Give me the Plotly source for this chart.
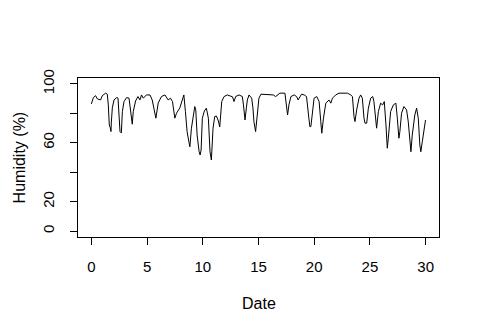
import plotly.graph_objects as go

# Trace of the humidity series (day, humidity %)
days = [0.00, 0.18, 0.38, 0.54, 0.83, 0.98, 1.28, 1.43, 1.52, 1.61, 1.70, 1.76, 1.79, 1.88,
        2.03, 2.27, 2.39, 2.48, 2.57, 2.69, 2.78, 2.93, 3.16, 3.38, 3.58, 3.67, 3.76, 3.97,
        4.18, 4.36, 4.50, 4.66, 4.95, 5.26, 5.46, 5.79, 6.00, 6.29, 6.60, 6.89, 7.10, 7.28,
        7.49, 7.64, 7.94, 8.17, 8.30, 8.44, 8.59, 8.75, 8.84, 8.98, 9.13, 9.28, 9.37, 9.49,
        9.67, 9.76, 9.85, 9.96, 10.14, 10.32, 10.50, 10.65, 10.77, 10.92, 11.07, 11.22, 11.40,
        11.52, 11.70, 11.91, 12.20, 12.51, 12.67, 12.80, 12.95, 13.25, 13.55, 13.65, 13.79,
        13.91, 14.00, 14.15, 14.39, 14.50, 14.59, 14.74, 14.86, 15.04, 15.22, 15.58, 16.02,
        16.32, 16.54, 16.71, 16.92, 17.37, 17.52, 17.61, 17.73, 17.91, 18.20, 18.42, 18.56,
        18.71, 18.86, 19.10, 19.31, 19.52, 19.61, 19.70, 19.85, 19.99, 20.23, 20.44, 20.59,
        20.68, 20.83, 21.04, 21.33, 21.49, 21.64, 21.93, 22.23, 22.53, 22.98, 23.28, 23.43,
        23.57, 23.66, 23.81, 24.02, 24.17, 24.32, 24.47, 24.56, 24.71, 24.86, 25.07, 25.25,
        25.36, 25.54, 25.60, 25.76, 25.96, 26.14, 26.29, 26.44, 26.56, 26.65, 26.86, 27.10,
        27.33, 27.46, 27.60, 27.69, 27.84, 28.05, 28.29, 28.44, 28.59, 28.68, 28.80, 29.03,
        29.19, 29.34, 29.48, 29.57, 29.70, 29.84, 29.99]
humidity = [86.4, 90.7, 92.0, 89.8, 89.1, 92.0, 93.7, 93.0, 85.7, 72.1, 70.1, 67.6, 73.5, 83.7,
            89.1, 90.7, 90.3, 81.2, 67.6, 66.7, 81.2, 88.0, 90.7, 90.3, 74.4, 72.6, 81.2, 88.4,
            91.4, 89.1, 92.5, 90.3, 92.5, 92.5, 89.1, 76.7, 87.1, 91.4, 92.5, 89.1, 90.3, 88.0,
            76.7, 80.1, 83.7, 90.3, 92.5, 81.2, 67.6, 60.7, 57.3, 69.9, 78.9, 84.6, 82.3, 65.3,
            53.9, 51.7, 55.1, 76.7, 81.6, 83.5, 76.7, 53.9, 48.3, 69.9, 77.8, 78.2, 74.8,
            70.7, 88.0, 91.4, 92.5, 91.4, 91.2, 88.0, 91.4, 92.5, 91.4, 85.7, 75.5,
            83.7, 89.1, 92.5, 90.3, 83.7, 74.4, 67.6, 75.5, 90.3, 93.0, 93.0, 92.5,
            92.5, 91.4, 92.5, 93.7, 93.7, 85.7, 78.9, 85.7, 91.4, 92.5, 91.4, 89.1,
            91.4, 93.0, 92.5, 91.4, 76.7, 71.0, 71.0, 83.5, 90.3, 91.4, 88.0, 74.4,
            66.5, 76.7, 86.9, 89.1, 86.9, 90.3, 92.5, 93.7, 93.7, 93.7, 92.5, 91.4,
            77.8, 74.4, 82.3, 90.3, 92.5, 90.3, 76.7, 73.3, 73.3, 83.5, 90.3, 91.4,
            88.0, 74.4, 69.9, 81.2, 86.9, 85.7, 88.0, 72.1, 56.3, 63.1, 81.2, 85.7,
            86.9, 76.7, 63.1, 67.6, 80.1, 84.6, 82.3, 74.4, 57.3, 53.9, 65.3, 78.9,
            83.5, 76.7, 58.5, 53.9, 60.7, 69.9, 75.5]

x_ticks = [0, 5, 10, 15, 20, 25, 30]
y_ticks = [0, 20, 40, 60, 80, 100]
y_tick_text = ["0", "20", "", "60", "", "100"]

FONT = "Liberation Sans, Arial, sans-serif"

fig = go.Figure()
fig.add_trace(go.Scatter(x=days, y=humidity, mode="lines",
                         line=dict(color="black", width=1), showlegend=False,
                         hoverinfo="skip"))

# The page body adds an 8px offset, so the figure is 8px smaller and margins shifted.
fig.update_layout(
    width=472, height=327,
    margin=dict(l=70, r=41, t=70, b=98),
    paper_bgcolor="white", plot_bgcolor="white",
    font=dict(family=FONT, size=15, color="black"),
    xaxis=dict(range=[-1.2, 31.2], tickvals=x_ticks, ticks="outside", ticklen=7,
               tickcolor="black", showline=True, mirror=True, linecolor="black",
               linewidth=1, showgrid=False, zeroline=False, ticklabelstandoff=9,
               tickfont=dict(size=15)),
    yaxis=dict(range=[-4, 104], tickvals=y_ticks, ticktext=y_tick_text, ticks="outside",
               ticklen=7, tickcolor="black", showline=True, mirror=True, linecolor="black",
               linewidth=1, showgrid=False, zeroline=False, tickangle=-90,
               ticklabelstandoff=10, tickfont=dict(size=15)),
    annotations=[
        dict(text="Date", xref="paper", yref="paper", x=0.501, y=-0.42,
             showarrow=False, font=dict(size=16), xanchor="center", yanchor="middle"),
        dict(text="Humidity (%)", xref="paper", yref="paper", x=-0.161, y=0.5,
             showarrow=False, font=dict(size=16), textangle=-90,
             xanchor="center", yanchor="middle", borderpad=0),
    ],
)

fig.write_html("out.html")
